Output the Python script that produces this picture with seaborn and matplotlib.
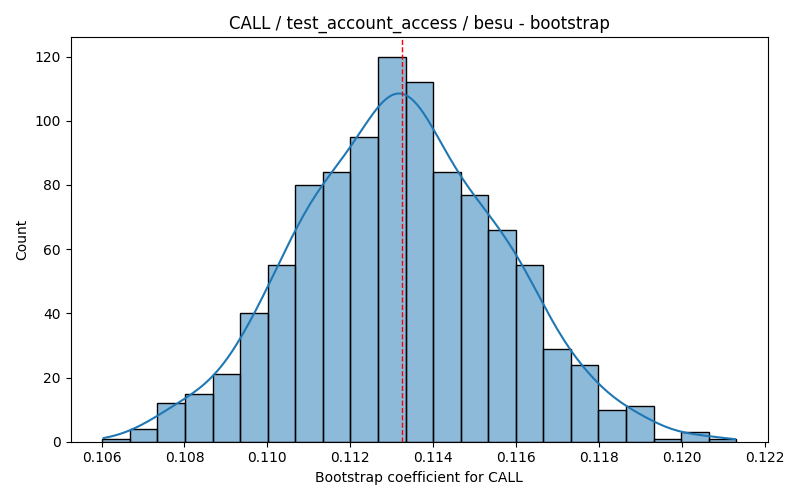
import numpy as np
import pandas as pd
import matplotlib
matplotlib.use("Agg")
import matplotlib.pyplot as plt
import seaborn as sns

# bootstrap histogram
edge_lo = 0.10602
edge_hi = 0.12131
counts = [1, 4, 12, 15, 21, 40, 55, 80, 84, 95, 120, 112,
          84, 77, 66, 55, 29, 24, 10, 11, 1, 3, 1]
mean_coef = 0.11324

edges = np.linspace(edge_lo, edge_hi, len(counts) + 1)
df = pd.DataFrame({"coef": (edges[:-1] + edges[1:]) / 2, "n": counts})

fig, ax = plt.subplots(figsize=(8, 5), dpi=100)
sns.histplot(data=df, x="coef", weights="n", bins=list(edges), kde=True, ax=ax,
             kde_kws={"bw_adjust": 0.43, "cut": 0.29})
ax.axvline(mean_coef, color="red", linestyle="--", linewidth=1)
ax.set_title("CALL / test_account_access / besu - bootstrap")
ax.set_xlabel("Bootstrap coefficient for CALL")
ax.set_ylabel("Count")
plt.tight_layout()
plt.savefig("out.png")
plt.close()
